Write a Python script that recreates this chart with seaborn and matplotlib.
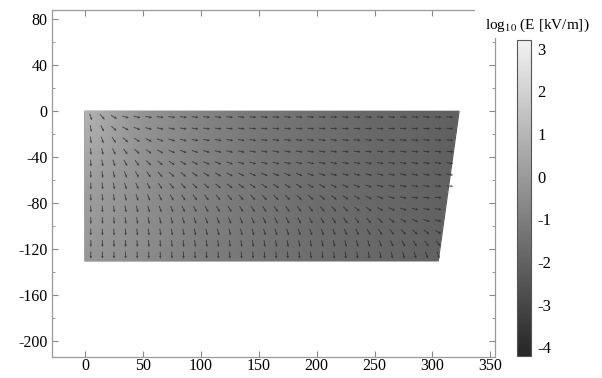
import numpy as np
import matplotlib
matplotlib.use("Agg")
import matplotlib.pyplot as plt
from matplotlib.patches import Polygon, Rectangle
from matplotlib.path import Path
from matplotlib.colors import LinearSegmentedColormap
import seaborn as sns

# domain outline (x, y) in metres
outline_x = [0, 323, 305, 0]
outline_y = [0, 0, -130, -130]

# log10 E [kV/m]
field_x = [0, 50, 100, 150, 200, 250, 300, 325]
field_y = [0, -65, -130]
log_e = [
    [0.9, -0.2, -0.8, -1.2, -1.5, -1.8, -2.0, -2.1],
    [0.2, -0.4, -0.9, -1.3, -1.6, -1.8, -2.0, -2.1],
    [-0.1, -0.5, -1.0, -1.3, -1.6, -1.8, -2.0, -2.1],
]

# arrow grid and arrow directions (degrees below horizontal)
arrow_x = list(range(5, 320, 10))
arrow_y = [-5, -15, -25, -35, -45, -55, -65, -75, -85, -95, -105, -115, -125]
arrow_deg = [
    [70, 50, 30, 18, 12, 10, 8, 8, 6, 6, 5, 5, 5, 5, 4, 4, 4, 4, 4, 4, 3, 3, 3, 3, 3, 3, 3, 3, 3, 3, 3, 3],
    [80, 62, 42, 28, 20, 15, 12, 10, 9, 8, 7, 7, 6, 6, 6, 5, 5, 5, 5, 5, 5, 4, 4, 4, 4, 4, 4, 4, 4, 4, 4, 4],
    [84, 72, 56, 42, 32, 25, 20, 17, 14, 12, 11, 10, 9, 8, 8, 7, 7, 7, 6, 6, 6, 6, 6, 5, 5, 5, 5, 5, 5, 5, 5, 5],
    [86, 77, 65, 52, 42, 35, 29, 24, 21, 18, 16, 14, 13, 12, 11, 10, 10, 9, 9, 8, 8, 8, 8, 7, 7, 7, 7, 7, 6, 6, 6, 6],
    [87, 80, 71, 61, 52, 45, 39, 34, 30, 26, 23, 21, 19, 17, 16, 15, 14, 13, 12, 12, 11, 11, 10, 10, 10, 9, 9, 9, 9, 8, 8, 8],
    [88, 83, 76, 68, 60, 54, 48, 43, 39, 35, 32, 30, 28, 26, 24, 23, 22, 21, 20, 19, 18, 17, 16, 15, 14, 13, 12, 11, 10, 10, 10, 10],
    [88, 85, 79, 73, 67, 62, 57, 52, 48, 45, 42, 40, 38, 36, 35, 34, 33, 32, 31, 30, 29, 27, 25, 22, 19, 16, 13, 10, 8, 6, 5, 5],
    [89, 86, 82, 77, 72, 68, 64, 60, 57, 54, 52, 50, 49, 48, 47, 46, 45, 44, 43, 42, 40, 38, 35, 31, 27, 22, 17, 12, 8, 6, 5, 5],
    [89, 87, 84, 80, 77, 74, 71, 68, 65, 63, 61, 60, 59, 58, 57, 56, 55, 54, 53, 52, 50, 48, 45, 41, 36, 30, 24, 18, 12, 8, 6, 6],
    [89, 88, 86, 83, 81, 79, 77, 75, 73, 71, 70, 69, 68, 67, 66, 65, 64, 63, 62, 61, 60, 58, 56, 53, 49, 44, 38, 32, 26, 20, 15, 15],
    [90, 88, 87, 86, 84, 83, 82, 80, 79, 78, 77, 76, 76, 75, 74, 74, 73, 72, 71, 70, 69, 68, 66, 64, 61, 57, 52, 47, 42, 37, 32, 32],
    [90, 89, 88, 88, 87, 86, 86, 85, 85, 84, 84, 83, 83, 82, 82, 81, 81, 80, 80, 79, 78, 77, 76, 74, 72, 69, 66, 62, 58, 54, 50, 50],
    [90, 90, 89, 89, 89, 89, 88, 88, 88, 88, 88, 87, 87, 87, 87, 86, 86, 86, 86, 85, 85, 84, 84, 83, 82, 80, 78, 76, 73, 70, 66, 66],
]

cbar_ticks = [3, 2, 1, 0, -1, -2, -3, -4]

sns.set_style("ticks")
plt.rcParams["font.family"] = ["Liberation Serif", "DejaVu Serif"]
plt.rcParams["mathtext.fontset"] = "stix"
plt.rcParams["axes.unicode_minus"] = False
plt.rcParams["text.color"] = "black"
plt.rcParams["xtick.labelcolor"] = "black"
plt.rcParams["ytick.labelcolor"] = "black"

greys = LinearSegmentedColormap.from_list("greys", ["#262626", "#f2f2f2"])

fig = plt.figure(figsize=(6.02, 3.78), dpi=100)
ax = fig.add_axes([0.0864, 0.0556, 0.7359, 0.918])
cax = fig.add_axes([0.858, 0.0582, 0.0233, 0.836])

# shaded field clipped to the domain
poly = Polygon(list(zip(outline_x, outline_y)), closed=True, facecolor="none",
               edgecolor="#555555", linewidth=0.8)
ax.add_patch(poly)
mesh = ax.pcolormesh(field_x, field_y, np.array(log_e), shading="gouraud",
                     cmap=greys, vmin=-4.2, vmax=3.2)
mesh.set_clip_path(poly)

# arrows
gx, gy = np.meshgrid(arrow_x, arrow_y)
ang = np.radians(np.array(arrow_deg, dtype=float))
u = np.cos(ang)
v = -np.sin(ang)
inside = Path(list(zip(outline_x, outline_y))).contains_points(
    np.column_stack([gx.ravel(), gy.ravel()]), radius=-4).reshape(gx.shape)
ax.quiver(gx[inside], gy[inside], u[inside], v[inside], color="#222222",
          pivot="middle", units="xy", scale=1 / 6.0, width=0.8,
          headwidth=3, headlength=3, headaxislength=2.7, alpha=0.7)

ax.set_xlim(-28.5, 354)
ax.set_ylim(-213.5, 88)
ax.set_xticks([0, 50, 100, 150, 200, 250, 300, 350])
ax.set_yticks([80, 40, 0, -40, -80, -120, -160, -200])
ax.set_yticks(np.arange(-200, 81, 20), minor=True)
ax.tick_params(which="both", direction="in", top=True, right=True,
               labelsize=11.5, color="#888888", pad=3)
ax.tick_params(axis="x", pad=1)
ax.tick_params(which="major", length=4, width=0.8)
ax.tick_params(which="minor", length=2.5, width=0.6)
for s in ax.spines.values():
    s.set_color("#9a9a9a")
    s.set_linewidth(0.9)

cb = fig.colorbar(mesh, cax=cax, ticks=cbar_ticks)
cb.ax.tick_params(length=0, labelsize=12, pad=5)
cb.outline.set_edgecolor("#555555")
cb.outline.set_linewidth(0.8)

# white box behind the colour bar title hides the frame corner
fig.patches.append(Rectangle((0.789, 0.9), 0.211, 0.1, transform=fig.transFigure,
                             facecolor="white", edgecolor="none", zorder=5))
fig.text(0.893, 0.934, r"log$_{10}$ (E [kV/m])", ha="center", va="center",
         fontsize=11, zorder=6)

fig.savefig("out.png", dpi=100)
